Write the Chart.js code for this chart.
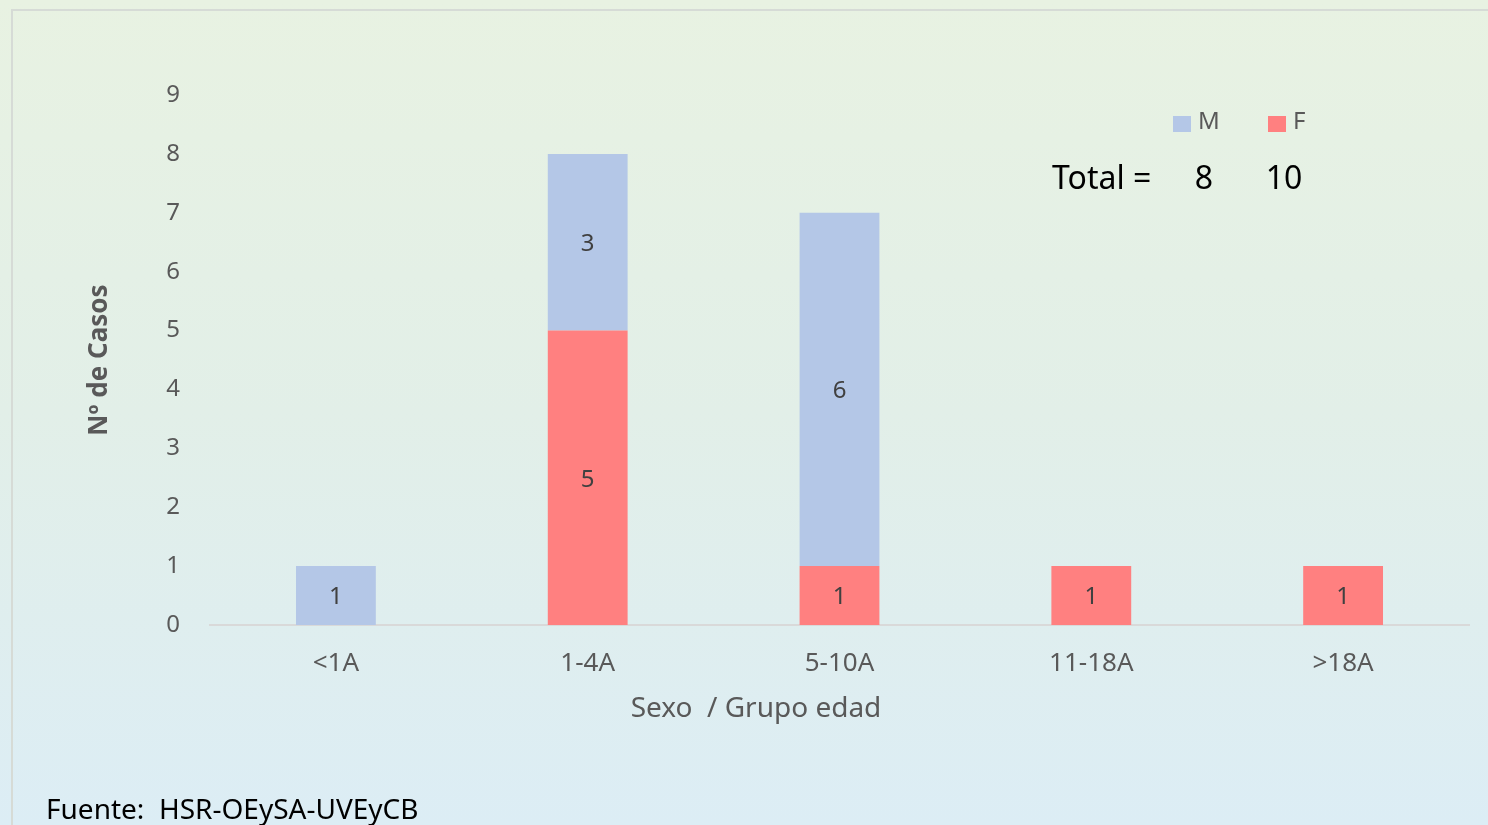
<!DOCTYPE html>
<html><head><meta charset="utf-8">
<script src="https://cdn.jsdelivr.net/npm/chart.js@4"></script>
<style>
html,body{margin:0;padding:0;width:1488px;height:825px;overflow:hidden;
background:linear-gradient(to bottom,#e8f2e2 0%,#e2efe8 50%,#dcedf5 100%);}
#frame{position:absolute;left:11px;top:9px;width:1500px;height:900px;border-left:2px solid #d6dbd6;border-top:2px solid #d6dbd6;}
#wrap{position:absolute;left:0;top:0;width:1488px;height:825px;}
</style></head>
<body>
<div id="frame"></div>
<div id="wrap"><canvas id="c" width="1488" height="825"></canvas></div>
<script>
const categories = ['<1A', '1-4A', '5-10A', '11-18A', '>18A'];
const seriesF = [null, 5, 1, 1, 1];
const seriesM = [1, 3, 6, null, null];
const seriesNames = ['F', 'M'];
const totalLabel = 'Total =';
const totalsShown = ['8', '10'];
const yTicks = [0,1,2,3,4,5,6,7,8,9];
const yTitle = 'Nº de Casos';
const xTitle = 'Sexo  / Grupo edad';
const sourceText = 'Fuente:  HSR-OEySA-UVEyCB';

const COL_F = '#ff8080';
const COL_M = '#b4c7e7';
const FONT = "'Noto Sans', sans-serif";

const overlay = {
  id: 'overlay',
  afterDatasetsDraw(chart) {
    const ctx = chart.ctx;
    ctx.save();
    // data labels
    ctx.font = '24px ' + FONT;
    ctx.fillStyle = '#404040';
    ctx.textAlign = 'center';
    ctx.textBaseline = 'middle';
    chart.data.datasets.forEach((ds, i) => {
      const meta = chart.getDatasetMeta(i);
      meta.data.forEach((el, j) => {
        const v = ds.data[j];
        if (v == null) return;
        const p = el.getProps(['x', 'y', 'base'], true);
        ctx.fillText(String(v), p.x, (p.y + p.base) / 2 + 2);
      });
    });
    // legend (M then F)
    const order = [1, 0];
    const legX = [1173, 1268];
    ctx.font = '24px ' + FONT;
    ctx.textAlign = 'left';
    ctx.textBaseline = 'middle';
    order.forEach((di, k) => {
      const ds = chart.data.datasets[di];
      ctx.fillStyle = ds.backgroundColor;
      ctx.fillRect(legX[k], 116, 18, 16);
      ctx.fillStyle = '#595959';
      ctx.fillText(ds.label, legX[k] + 25, 122);
    });
    // totals
    ctx.fillStyle = '#000000';
    ctx.font = '32px ' + FONT;
    ctx.textAlign = 'left';
    ctx.fillText(totalLabel, 1052, 180);
    ctx.textAlign = 'center';
    ctx.fillText(totalsShown[0], 1204, 180);
    ctx.fillText(totalsShown[1], 1284, 180);
    // x axis title
    ctx.fillStyle = '#595959';
    ctx.font = '28px ' + FONT;
    ctx.fillText(xTitle, 756, 709);
    // source
    ctx.fillStyle = '#000000';
    ctx.font = '28px ' + FONT;
    ctx.textAlign = 'left';
    ctx.fillText(sourceText, 46, 811);
    ctx.restore();
  }
};

new Chart(document.getElementById('c'), {
  type: 'bar',
  data: {
    labels: categories,
    datasets: [
      { label: seriesNames[0], data: seriesF, backgroundColor: COL_F, borderWidth: 0 },
      { label: seriesNames[1], data: seriesM, backgroundColor: COL_M, borderWidth: 0 }
    ]
  },
  options: {
    responsive: false,
    animation: false,
    devicePixelRatio: 1,
    layout: { padding: { top: 95, right: 19, left: 0, bottom: 0 } },
    plugins: { legend: { display: false }, tooltip: { enabled: false } },
    datasets: { bar: { categoryPercentage: 1, barPercentage: 0.317 } },
    scales: {
      x: {
        stacked: true,
        grid: { display: false, drawTicks: false },
        border: { display: true, color: '#d9d9d9', width: 2 },
        ticks: { color: '#595959', font: { family: FONT, size: 26 }, padding: 23 },
        afterFit: s => { s.height = 200; }
      },
      y: {
        stacked: true,
        min: 0, max: 9,
        afterBuildTicks: s => { s.ticks = yTicks.map(v => ({ value: v })); },
        grid: { display: false, drawTicks: false },
        border: { display: false },
        ticks: { color: '#595959', font: { family: FONT, size: 24 }, padding: 30 },
        title: { display: true, text: yTitle, color: '#595959',
                 font: { family: FONT, size: 26, weight: 'bold' }, padding: { top: 84, bottom: 0 } },
        afterFit: s => { s.width = 210; }
      }
    }
  },
  plugins: [overlay]
});
</script>
</body></html>
